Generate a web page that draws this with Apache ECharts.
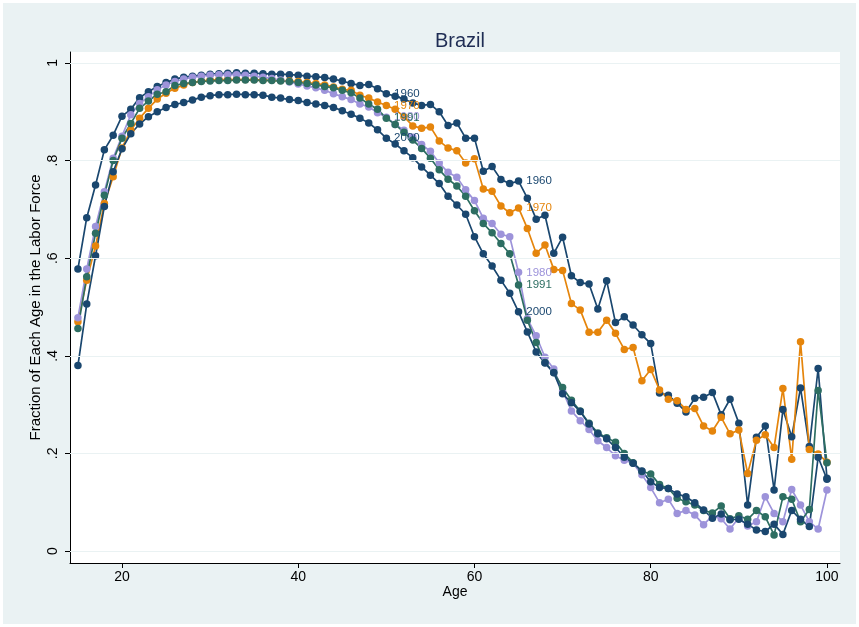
<!DOCTYPE html>
<html>
<head>
<meta charset="utf-8">
<script src="https://cdn.jsdelivr.net/npm/echarts@6/dist/echarts.min.js"></script>
<style>
  html, body { margin: 0; padding: 0; background: #ffffff; }
  #chart { width: 859px; height: 627px; }
</style>
</head>
<body>
<div id="chart"></div>
<script>
// Labor force participation by single year of age, Brazil, census years
const ages = [15,16,17,18,19,20,21,22,23,24,25,26,27,28,29,30,31,32,33,34,35,36,37,38,39,40,
  41,42,43,44,45,46,47,48,49,50,51,52,53,54,55,56,57,58,59,60,61,62,63,64,65,66,67,68,69,70,
  71,72,73,74,75,76,77,78,79,80,81,82,83,84,85,86,87,88,89,90,91,92,93,94,95,96,97,98,99,100];

const lf1960 = [0.578,0.683,0.750,0.822,0.852,0.891,0.905,0.929,0.941,0.952,0.960,0.967,0.971,0.973,0.975,
  0.977,0.978,0.979,0.980,0.979,0.979,0.978,0.977,0.977,0.976,0.975,0.973,0.972,0.970,0.967,
  0.963,0.958,0.954,0.956,0.947,0.937,0.932,0.926,0.918,0.913,0.915,0.900,0.872,0.877,0.846,
  0.846,0.778,0.788,0.761,0.753,0.758,0.723,0.680,0.688,0.610,0.643,0.564,0.550,0.547,0.496,
  0.554,0.468,0.480,0.463,0.443,0.425,0.324,0.319,0.303,0.285,0.313,0.315,0.325,0.279,0.311,
  0.262,0.094,0.233,0.256,0.125,0.290,0.234,0.334,0.214,0.374,0.149];

const lf1970 = [0.470,0.555,0.625,0.712,0.767,0.826,0.862,0.887,0.907,0.926,0.938,0.948,0.955,0.960,0.963,
  0.965,0.966,0.966,0.966,0.966,0.966,0.965,0.965,0.964,0.963,0.962,0.960,0.958,0.955,0.951,
  0.946,0.944,0.934,0.928,0.920,0.913,0.905,0.890,0.871,0.866,0.869,0.840,0.826,0.820,0.795,
  0.804,0.742,0.737,0.707,0.693,0.703,0.661,0.610,0.627,0.577,0.575,0.507,0.494,0.448,0.448,
  0.473,0.446,0.413,0.417,0.349,0.372,0.330,0.311,0.308,0.290,0.292,0.256,0.246,0.274,0.240,
  0.248,0.159,0.227,0.238,0.212,0.333,0.188,0.429,0.208,0.199,0.182];

const lf1980 = [0.478,0.578,0.665,0.736,0.805,0.850,0.894,0.917,0.931,0.945,0.955,0.962,0.967,0.971,0.973,
  0.975,0.976,0.976,0.976,0.975,0.973,0.971,0.968,0.965,0.961,0.957,0.953,0.949,0.944,0.937,
  0.931,0.925,0.916,0.910,0.898,0.889,0.874,0.862,0.848,0.833,0.819,0.795,0.776,0.766,0.740,
  0.718,0.682,0.671,0.649,0.644,0.571,0.476,0.441,0.397,0.373,0.328,0.287,0.267,0.249,0.226,
  0.212,0.195,0.186,0.180,0.156,0.130,0.099,0.106,0.077,0.083,0.074,0.054,0.072,0.066,0.045,
  0.068,0.051,0.060,0.111,0.077,0.060,0.126,0.094,0.060,0.045,0.125];

const lf1991 = [0.456,0.562,0.651,0.729,0.800,0.846,0.876,0.907,0.922,0.936,0.941,0.954,0.958,0.960,0.962,
  0.963,0.964,0.964,0.965,0.965,0.965,0.964,0.964,0.963,0.962,0.960,0.958,0.955,0.952,0.949,
  0.944,0.939,0.928,0.916,0.905,0.887,0.874,0.858,0.842,0.825,0.805,0.781,0.762,0.748,0.727,
  0.697,0.671,0.652,0.630,0.609,0.545,0.473,0.427,0.386,0.366,0.335,0.309,0.287,0.262,0.242,
  0.232,0.223,0.200,0.181,0.163,0.158,0.136,0.128,0.108,0.101,0.094,0.083,0.078,0.092,0.066,
  0.072,0.065,0.083,0.070,0.033,0.111,0.106,0.060,0.085,0.329,0.181];

const lf2000 = [0.380,0.506,0.605,0.706,0.777,0.824,0.855,0.875,0.890,0.900,0.909,0.915,0.919,0.924,0.930,
  0.933,0.935,0.935,0.936,0.935,0.935,0.934,0.930,0.928,0.925,0.923,0.919,0.916,0.913,0.909,
  0.902,0.895,0.887,0.877,0.863,0.846,0.834,0.820,0.806,0.787,0.770,0.753,0.727,0.709,0.690,
  0.644,0.609,0.584,0.555,0.528,0.490,0.449,0.408,0.385,0.365,0.322,0.304,0.286,0.260,0.240,
  0.230,0.212,0.192,0.180,0.164,0.142,0.130,0.128,0.117,0.111,0.099,0.084,0.067,0.076,0.064,
  0.065,0.055,0.043,0.040,0.055,0.034,0.083,0.065,0.050,0.192,0.147];

const seriesNames = ['1960', '1970', '1980', '1991', '2000'];
const seriesValues = [lf1960, lf1970, lf1980, lf1991, lf2000];
const seriesColors = ['#1a476f', '#e5850c', '#9d93da', '#2d6e62', '#1a476f'];

// ages whose markers carry the census-year tag
const labelAges = [50, 65];

const xTicks = [20, 40, 60, 80, 100];
const yTicks = [0, 0.2, 0.4, 0.6, 0.8, 1];
const yTickLabels = ['0', '.2', '.4', '.6', '.8', '1'];

const FONT = 'Liberation Sans, Arial, sans-serif';

const lineSeries = seriesNames.map((name, s) => ({
  name: name,
  type: 'line',
  z: 3,
  symbol: 'circle',
  symbolSize: 7.5,
  showSymbol: true,
  showAllSymbol: true,
  silent: true,
  lineStyle: { color: seriesColors[s], width: 1.7 },
  itemStyle: { color: seriesColors[s] },
  emphasis: { disabled: true },
  data: ages.map((a, i) => {
    const pt = [a, seriesValues[s][i]];
    if (labelAges.indexOf(a) >= 0) {
      return {
        value: pt,
        label: {
          show: true,
          position: 'right',
          distance: 4,
          formatter: name,
          color: seriesColors[s],
          fontSize: 11.5,
          fontFamily: FONT
        }
      };
    }
    return pt;
  })
}));

// horizontal rules at the y ticks
const gridSeries = {
  type: 'line',
  z: 1,
  silent: true,
  data: [],
  markLine: {
    silent: true,
    symbol: ['none', 'none'],
    label: { show: false },
    lineStyle: { color: '#eaf2f3', width: 1.2, type: 'solid' },
    emphasis: { disabled: true },
    data: yTicks.map(v => ({ yAxis: v }))
  }
};

const chart = echarts.init(document.getElementById('chart'), null, { renderer: 'canvas' });
chart.setOption({
  animation: false,
  backgroundColor: '#ffffff',
  graphic: [{
    type: 'rect',
    z: -10,
    silent: true,
    shape: { x: 3, y: 3, width: 853, height: 621 },
    style: { fill: '#eaf2f3' }
  }],
  title: {
    text: 'Brazil',
    left: 455,
    top: 26,
    textAlign: 'center',
    textStyle: { color: '#1f2d54', fontSize: 20, fontWeight: 'normal', fontFamily: FONT }
  },
  grid: {
    left: 70, right: 19, top: 52, bottom: 64,
    show: true, backgroundColor: '#ffffff', borderWidth: 0
  },
  xAxis: {
    type: 'value',
    min: 14.1,
    max: 101.48,
    name: 'Age',
    nameLocation: 'middle',
    nameGap: 22,
    nameMoveOverlap: false,
    nameTextStyle: { color: '#000', fontSize: 14, fontFamily: FONT },
    axisLine: { show: true, onZero: false, lineStyle: { color: '#000', width: 1 } },
    axisTick: { show: true, length: 5, customValues: xTicks, lineStyle: { color: '#000' } },
    axisLabel: { customValues: xTicks, margin: 7, color: '#000', fontSize: 14, fontFamily: FONT },
    splitLine: { show: false }
  },
  yAxis: {
    type: 'value',
    min: -0.0246,
    max: 1.0225,
    name: 'Fraction of Each Age in the Labor Force',
    nameLocation: 'middle',
    nameGap: 27,
    nameMoveOverlap: false,
    nameTextStyle: { color: '#000', fontSize: 15, fontFamily: FONT },
    axisLine: { show: true, onZero: false, lineStyle: { color: '#000', width: 1 } },
    axisTick: { show: true, length: 5, customValues: yTicks, lineStyle: { color: '#000' } },
    axisLabel: {
      customValues: yTicks,
      rotate: 90,
      margin: 10,
      color: '#000',
      fontSize: 14,
      fontFamily: FONT,
      formatter: v => {
        const k = yTicks.findIndex(t => Math.abs(t - v) < 1e-6);
        return k >= 0 ? yTickLabels[k] : '';
      }
    },
    splitLine: { show: false }
  },
  series: [gridSeries].concat(lineSeries)
});
</script>
</body>
</html>
